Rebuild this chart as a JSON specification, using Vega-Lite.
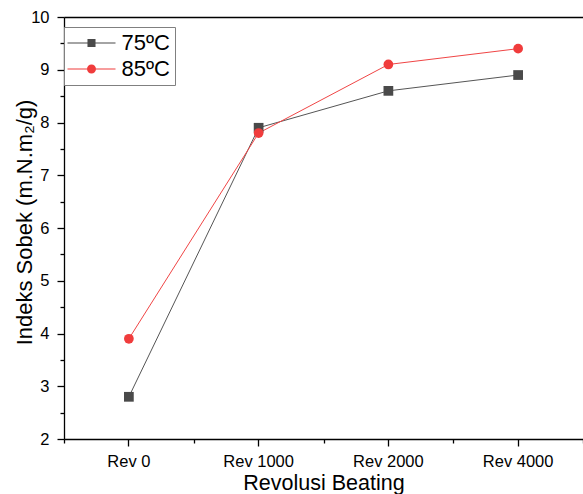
{
  "$schema": "https://vega.github.io/schema/vega-lite/v6.json",
  "width": 519,
  "height": 422,
  "autosize": {"type": "none"},
  "padding": {"left": 64, "top": 17, "right": 0, "bottom": 55},
  "config": {
    "view": {"stroke": null},
    "font": "Liberation Sans",
    "axis": {
      "domainColor": "#000", "tickColor": "#000", "labelColor": "#000", "titleColor": "#000",
      "grid": false, "labelFont": "Liberation Sans", "titleFont": "Liberation Sans",
      "titleFontWeight": "normal", "domainWidth": 1.3, "tickWidth": 1.3
    }
  },
  "data": {
    "values": [
      {"rev": "Rev 0", "series": "75ºC", "val": 2.8},
      {"rev": "Rev 1000", "series": "75ºC", "val": 7.9},
      {"rev": "Rev 2000", "series": "75ºC", "val": 8.6},
      {"rev": "Rev 4000", "series": "75ºC", "val": 8.9},
      {"rev": "Rev 0", "series": "85ºC", "val": 3.9},
      {"rev": "Rev 1000", "series": "85ºC", "val": 7.8},
      {"rev": "Rev 2000", "series": "85ºC", "val": 9.1},
      {"rev": "Rev 4000", "series": "85ºC", "val": 9.4}
    ]
  },
  "layer": [
    {
      "mark": {"type": "line", "strokeWidth": 1},
      "encoding": {
        "x": {
          "field": "rev", "type": "ordinal",
          "sort": ["Rev 0", "Rev 1000", "Rev 2000", "Rev 4000"],
          "scale": {"type": "band", "paddingInner": 0, "paddingOuter": 0},
          "axis": {
            "title": "Revolusi Beating", "labelAngle": 0, "labelFontSize": 16.5,
            "labelPadding": 7, "tickSize": 7, "titleFontSize": 21.5,
            "titleY": 50, "titleBaseline": "alphabetic", "orient": "bottom"
          }
        },
        "y": {
          "field": "val", "type": "quantitative",
          "scale": {"domain": [2, 10], "nice": false, "zero": false},
          "axis": {
            "values": [2, 3, 4, 5, 6, 7, 8, 9, 10],
            "title": "Indeks Sobek (m.N.m₂/g)", "labelFontSize": 16.5,
            "tickSize": 7, "labelPadding": 8, "titleFontSize": 22,
            "titleX": -33, "titleY": 205, "titleBaseline": "alphabetic", "orient": "left"
          }
        },
        "color": {
          "field": "series", "type": "nominal",
          "scale": {"domain": ["75ºC", "85ºC"], "range": ["#555555", "#f04545"]},
          "legend": null
        }
      }
    },
    {
      "mark": {"type": "point", "filled": true, "opacity": 1, "size": 95},
      "encoding": {
        "x": {
          "field": "rev", "type": "ordinal",
          "sort": ["Rev 0", "Rev 1000", "Rev 2000", "Rev 4000"],
          "axis": {"tickBand": "extent", "labels": false, "domain": false, "tickSize": 4, "title": null, "orient": "bottom"}
        },
        "y": {
          "field": "val", "type": "quantitative",
          "axis": {"values": [2.5, 3.5, 4.5, 5.5, 6.5, 7.5, 8.5, 9.5], "labels": false, "domain": false, "tickSize": 4, "title": null, "orient": "left"}
        },
        "color": {
          "field": "series", "type": "nominal",
          "scale": {"domain": ["75ºC", "85ºC"], "range": ["#4a4a4a", "#f03c3c"]},
          "legend": null
        },
        "shape": {
          "field": "series", "type": "nominal",
          "scale": {"domain": ["75ºC", "85ºC"], "range": ["square", "circle"]},
          "legend": null
        }
      }
    },
    {
      "mark": {"type": "point", "opacity": 0},
      "encoding": {
        "x": {
          "field": "rev", "type": "ordinal",
          "sort": ["Rev 0", "Rev 1000", "Rev 2000", "Rev 4000"],
          "axis": {"orient": "top", "ticks": false, "labels": false, "title": null, "domain": true}
        },
        "y": {"field": "val", "type": "quantitative", "axis": null}
      }
    },
    {
      "mark": {"type": "point", "filled": true, "opacity": 0},
      "encoding": {
        "x": {
          "field": "rev", "type": "ordinal",
          "sort": ["Rev 0", "Rev 1000", "Rev 2000", "Rev 4000"],
          "axis": null
        },
        "y": {"field": "val", "type": "quantitative", "axis": null},
        "color": {
          "field": "series", "type": "nominal",
          "scale": {"domain": ["75ºC", "85ºC"], "range": ["#4a4a4a", "#f03c3c"]},
          "legend": {
            "orient": "none", "legendX": 0, "legendY": 10, "title": null,
            "labelFontSize": 22, "labelFont": "Liberation Sans", "labelColor": "#000",
            "strokeColor": "#808080", "fillColor": "#ffffff", "padding": 5,
            "symbolSize": 144, "symbolOffset": 11.5, "labelOffset": 19, "rowPadding": 4,
            "symbolOpacity": 1, "symbolStrokeWidth": 0
          }
        },
        "shape": {
          "field": "series", "type": "nominal",
          "scale": {"domain": ["75ºC", "85ºC"], "range": [
            "M-4,-0.09H4V0.09H-4ZM-0.67,-0.67H0.67V0.67H-0.67Z",
            "M-4,-0.09H4V0.09H-4ZM-0.75,0A0.75,0.75 0 1,1 0.75,0A0.75,0.75 0 1,1 -0.75,0Z"
          ]},
          "legend": {
            "orient": "none", "legendX": 0, "legendY": 10, "title": null,
            "labelFontSize": 22, "labelFont": "Liberation Sans", "labelColor": "#000",
            "strokeColor": "#808080", "fillColor": "#ffffff", "padding": 5,
            "symbolSize": 144, "symbolOffset": 11.5, "labelOffset": 19, "rowPadding": 4,
            "symbolOpacity": 1, "symbolStrokeWidth": 0
          }
        }
      }
    }
  ],
  "resolve": {
    "axis": {"x": "independent", "y": "independent"},
    "scale": {"color": "independent", "shape": "independent"}
  }
}
